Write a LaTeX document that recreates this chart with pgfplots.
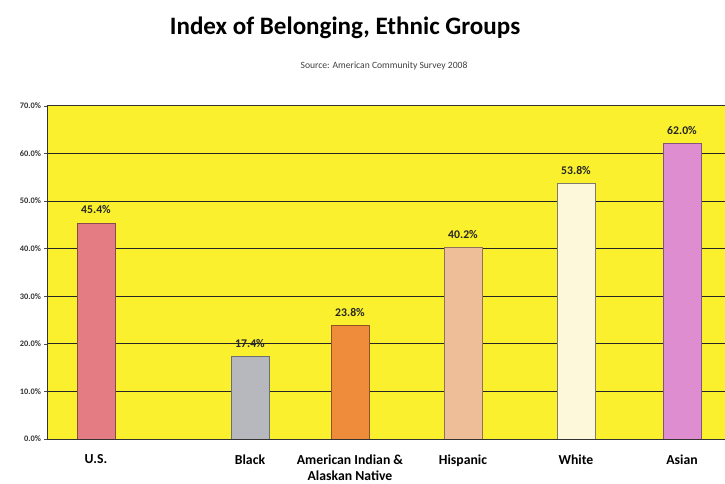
\documentclass[border=0pt]{standalone}
\usepackage{pgfplots}
\pgfplotsset{compat=1.18}
\usepackage{fontspec}
\setmainfont{Carlito}
\definecolor{plotyellow}{RGB}{250,240,45}
\definecolor{cUS}{RGB}{228,124,132}
\definecolor{cBlack}{RGB}{182,184,190}
\definecolor{cAmInd}{RGB}{238,140,60}
\definecolor{cHisp}{RGB}{238,190,152}
\definecolor{cWhite}{RGB}{253,248,218}
\definecolor{cAsian}{RGB}{222,142,208}
\begin{document}
\begin{tikzpicture}[x=0.75pt,y=0.75pt]
\useasboundingbox[fill=white] (0,0) rectangle (725,484);
\node[font=\fontsize{18.8}{22}\selectfont\bfseries] at (345,456) {Index of Belonging, Ethnic Groups};
\node[font=\fontsize{7.2}{8}\selectfont, text=black!75] at (384,418) {Source: American Community Survey 2008};
\begin{axis}[
  at={(35.25pt,33.75pt)}, anchor=south west,
  scale only axis, width=508.5pt, height=250pt,
  xmin=47, xmax=725, ymin=0, ymax=70,
  axis background/.style={fill=plotyellow},
  axis x line*=box, axis y line*=left,
  axis line style={black!80, line width=0.6pt},
  ytick={0,10,...,70},
  yticklabel={\pgfmathprintnumber[fixed,fixed zerofill,precision=1]{\tick}\%},
  /pgf/number format/assume math mode=true,
  yticklabel style={font=\fontsize{6.3}{7}\selectfont\bfseries, text=black!80, xshift=1pt},
  ymajorgrids, major grid style={black!85, line width=0.6pt},
  y tick style={black!70}, tick align=outside, major tick length=2pt,
  xtick={96,250,350,463,576,682},
  xticklabels={U.S., Black, {American Indian \&\\Alaskan Native}, Hispanic, White, Asian},
  xticklabel style={font=\fontsize{10.3}{12}\selectfont\bfseries, align=center, yshift=-6pt},
  x tick style={draw=none},
  ybar, bar width=28.5pt, bar shift=0pt,
  nodes near coords={\pgfmathprintnumber[fixed,fixed zerofill,precision=1]{\pgfplotspointmeta}\%},
  nodes near coords style={font=\fontsize{8.8}{10}\selectfont\bfseries, text=black!85, yshift=3pt},
]
\addplot[fill=cUS, draw=cUS!60!black] coordinates {(96,45.4)};
\addplot[fill=cBlack, draw=cBlack!60!black] coordinates {(250,17.4)};
\addplot[fill=cAmInd, draw=cAmInd!60!black] coordinates {(350,23.8)};
\addplot[fill=cHisp, draw=cHisp!60!black] coordinates {(463,40.2)};
\addplot[fill=cWhite, draw=cWhite!50!black] coordinates {(576,53.8)};
\addplot[fill=cAsian, draw=cAsian!60!black] coordinates {(682,62.0)};
\end{axis}
\end{tikzpicture}
\end{document}
